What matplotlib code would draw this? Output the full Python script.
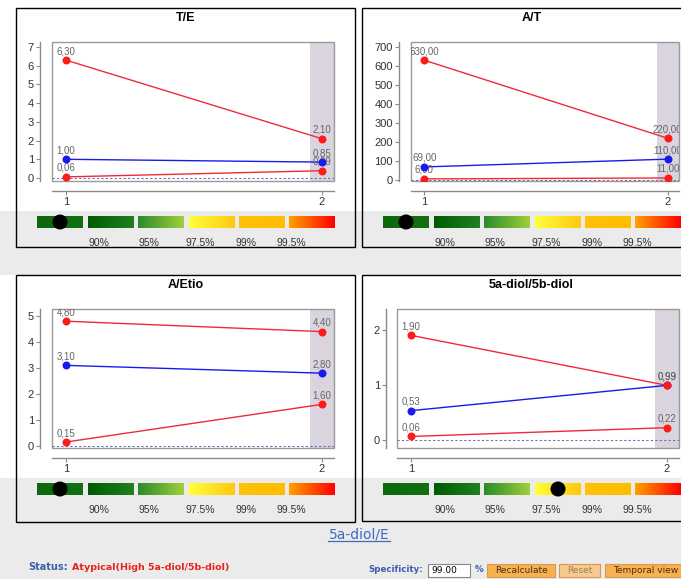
import matplotlib
matplotlib.use('Agg')
import matplotlib.pyplot as plt
import numpy as np
from matplotlib.patches import Rectangle, Ellipse
from matplotlib.colors import LinearSegmentedColormap
from matplotlib.transforms import ScaledTranslation

plt.rcParams['font.family'] = ['Liberation Sans', 'DejaVu Sans']

# ---------------- data ----------------
titles = ["T/E", "A/T", "A/Etio", "5a-diol/5b-diol"]
samples = [1, 2]

te_upper = [6.30, 2.10]
te_mean = [1.00, 0.85]
te_lower = [0.06, 0.39]

at_upper = [630.0, 220.0]
at_mean = [69.0, 110.0]
at_lower = [6.0, 11.0]

aetio_upper = [4.80, 4.40]
aetio_mean = [3.10, 2.80]
aetio_lower = [0.15, 1.60]

diol_upper = [1.90, 0.99]
diol_mean = [0.53, 0.99]
diol_lower = [0.06, 0.22]

te_yticks = [0, 1, 2, 3, 4, 5, 6, 7]
at_yticks = [0, 100, 200, 300, 400, 500, 600, 700]
aetio_yticks = [0, 1, 2, 3, 4, 5]
diol_yticks = [0, 1, 2]

percent_labels = ["90%", "95%", "97.5%", "99%", "99.5%"]
dot_segment = [0, 0, 0, 3]

link_text = "5a-diol/E"
status_label = "Status:"
status_value = "Atypical(High 5a-diol/5b-diol)"
spec_label = "Specificity:"
spec_value = "99.00"
buttons = ["Recalculate", "Reset", "Temporal view"]

# ---------------- layout (pixels) ----------------
W, H = 681, 579
fig = plt.figure(figsize=(W / 100, H / 100), dpi=100, facecolor='#ebebeb')
bg = fig.add_axes([0, 0, 1, 1])
bg.set_xlim(0, W)
bg.set_ylim(H, 0)
bg.axis('off')

def px(v):
    return v * 0.72  # pixels -> points

# white bands for the chart rows
bg.add_patch(Rectangle((0, 0), W, 211, facecolor='white', edgecolor='none', zorder=0))
bg.add_patch(Rectangle((0, 275), W, 203, facecolor='white', edgecolor='none', zorder=0))

panel_boxes = [(16, 8, 355, 247, 211), (362, 8, 701, 247, 211),
               (16, 275, 355, 522, 478), (362, 275, 701, 521, 478)]
plot_boxes = [(52, 42, 334, 181), (411, 42, 679, 181),
              (52, 309, 334, 448), (397, 309, 679, 448)]
ylims = [(-0.16, 7.27), (-5, 726), (-0.08, 5.27), (-0.15, 2.38)]
yaxis_offset = [12, 12, 12, 11]
xlim = (0.945, 2.047)
shade_start = 1.955

upper_sets = [te_upper, at_upper, aetio_upper, diol_upper]
mean_sets = [te_mean, at_mean, aetio_mean, diol_mean]
lower_sets = [te_lower, at_lower, aetio_lower, diol_lower]
ytick_sets = [te_yticks, at_yticks, aetio_yticks, diol_yticks]

seg_rel = [21, 72, 122, 173, 223, 273]
seg_w = 46
seg_colors = [('#0d680d', '#127012'), ('#005c00', '#217f21'), ('#2b8b2b', '#9fcf3a'),
              ('#ffff3a', '#ffc810'), ('#ffc20a', '#ffbd00'), ('#ffa000', '#ff0000')]
pct_rel = [83, 133, 184, 230.5, 275]

RED = '#ff1a1a'
REDL = '#ee2a3a'
BLUE = '#1a1aee'

def fmt(v):
    return f"{v:.2f}".replace('.', ',')

for i in range(4):
    L, T, R, B, S = panel_boxes[i]
    # panel body and strip
    bg.add_patch(Rectangle((L, T), R - L, S - T, facecolor='white', edgecolor='none', zorder=1))
    bg.add_patch(Rectangle((L, S), R - L, B - S, facecolor='#ebebeb', edgecolor='none', zorder=1))
    bg.add_patch(Rectangle((L, T), R - L, B - T, facecolor='none', edgecolor='black', lw=1.0, zorder=3))
    bg.text((L + R) / 2, T + 10, titles[i], ha='center', va='center', fontsize=9,
            fontweight='bold', color='black', zorder=4)
    # colour scale
    for k in range(6):
        x0 = L + seg_rel[k]
        cmap = LinearSegmentedColormap.from_list('s', seg_colors[k])
        bg.imshow(np.linspace(0, 1, 64).reshape(1, -1), cmap=cmap, aspect='auto',
                  extent=(x0, x0 + seg_w, S + 17, S + 5), zorder=2, interpolation='bilinear')
    k = dot_segment[i]
    bg.add_patch(Ellipse((L + seg_rel[k] + seg_w / 2, S + 11), 15, 15, facecolor='black',
                         edgecolor='none', zorder=3))
    for k, lab in enumerate(percent_labels):
        bg.text(L + pct_rel[k], S + 32, lab, ha='center', va='center', fontsize=7.5,
                color='#333333', zorder=4)

    # plot axes
    l, t, r, b = plot_boxes[i]
    ax = fig.add_axes([l / W, 1 - b / H, (r - l) / W, (b - t) / H])
    ax.set_facecolor('none')
    ax.set_xlim(*xlim)
    ax.set_ylim(*ylims[i])
    for s in ['top', 'right']:
        ax.spines[s].set_visible(False)
    ax.spines['left'].set_position(('outward', px(yaxis_offset[i])))
    ax.spines['bottom'].set_position(('outward', px(10)))
    for s in ['left', 'bottom']:
        ax.spines[s].set_color('#8a8a8a')
        ax.spines[s].set_linewidth(1.0)
    ax.add_patch(Rectangle((0, 0), 1, 1, transform=ax.transAxes, facecolor='none',
                           edgecolor='#9a9a9a', lw=1.0, clip_on=False, zorder=1))
    ax.axvspan(shade_start, xlim[1], color='#d9d4de', zorder=0, lw=0)
    ax.axhline(0, color='#6f6fb0', lw=0.8, ls=(0, (2, 2)), zorder=1)
    ax.set_xticks(samples)
    ax.set_yticks(ytick_sets[i])
    ax.tick_params(axis='both', length=px(4), width=0.8, color='#8a8a8a',
                   labelsize=8, labelcolor='#333333', pad=px(2))

    off = ScaledTranslation(0, 9 / 100, fig.dpi_scale_trans)
    series = [(lower_sets[i], REDL, RED), (mean_sets[i], BLUE, BLUE), (upper_sets[i], REDL, RED)]
    for vals, lc, mc in series:
        ax.plot(samples, vals, color=lc, lw=1.0, zorder=2)
        ax.plot(samples, vals, 'o', color=mc, ms=px(8), mec='none', zorder=4)
        for xv, yv in zip(samples, vals):
            ax.text(xv, yv, fmt(yv), transform=ax.transData + off, ha='center',
                    va='center', fontsize=7, color='#666666', clip_on=True, zorder=3)

# ---------------- bottom controls ----------------
bg.text(359, 534, link_text, ha='center', va='center', fontsize=10,
        color='#3a6cc0', family='DejaVu Sans', zorder=4)
bg.plot([328, 390], [541, 541], color='#3a6cc0', lw=0.9, zorder=4)

bg.text(28, 567, status_label, ha='left', va='center', fontsize=7, fontweight='bold',
        color='#3c5fae', family='DejaVu Sans')
bg.text(72, 567, status_value, ha='left', va='center', fontsize=6.8, fontweight='bold',
        color='#e8221c', family='DejaVu Sans')
bg.text(423, 570, spec_label, ha='right', va='center', fontsize=6.2, fontweight='bold',
        color='#3c5fae', family='DejaVu Sans')
bg.add_patch(Rectangle((428, 564), 42, 13, facecolor='white', edgecolor='#888888', lw=0.8))
bg.text(431, 570.5, spec_value, ha='left', va='center', fontsize=6.5, color='black',
        family='DejaVu Sans')
bg.text(475, 570, "%", ha='left', va='center', fontsize=6.3, fontweight='bold',
        color='#3c5fae', family='DejaVu Sans')
btn_boxes = [(487, 555), (559, 600), (605, 700)]
btn_face = ['#f8b150', '#f6c98e', '#f8b150']
btn_text = ['#4a3010', '#a08060', '#4a3010']
for (x0, x1), lab, fc, tc in zip(btn_boxes, buttons, btn_face, btn_text):
    bg.add_patch(Rectangle((x0, 564), x1 - x0, 13, facecolor=fc, edgecolor='#d89a50', lw=0.8))
    bg.text((x0 + x1) / 2 if x1 <= W else x0 + 8, 570.5, lab,
            ha='center' if x1 <= W else 'left', va='center', fontsize=6.5,
            color=tc, family='DejaVu Sans')

fig.savefig('out.png', dpi=100, facecolor=fig.get_facecolor())
